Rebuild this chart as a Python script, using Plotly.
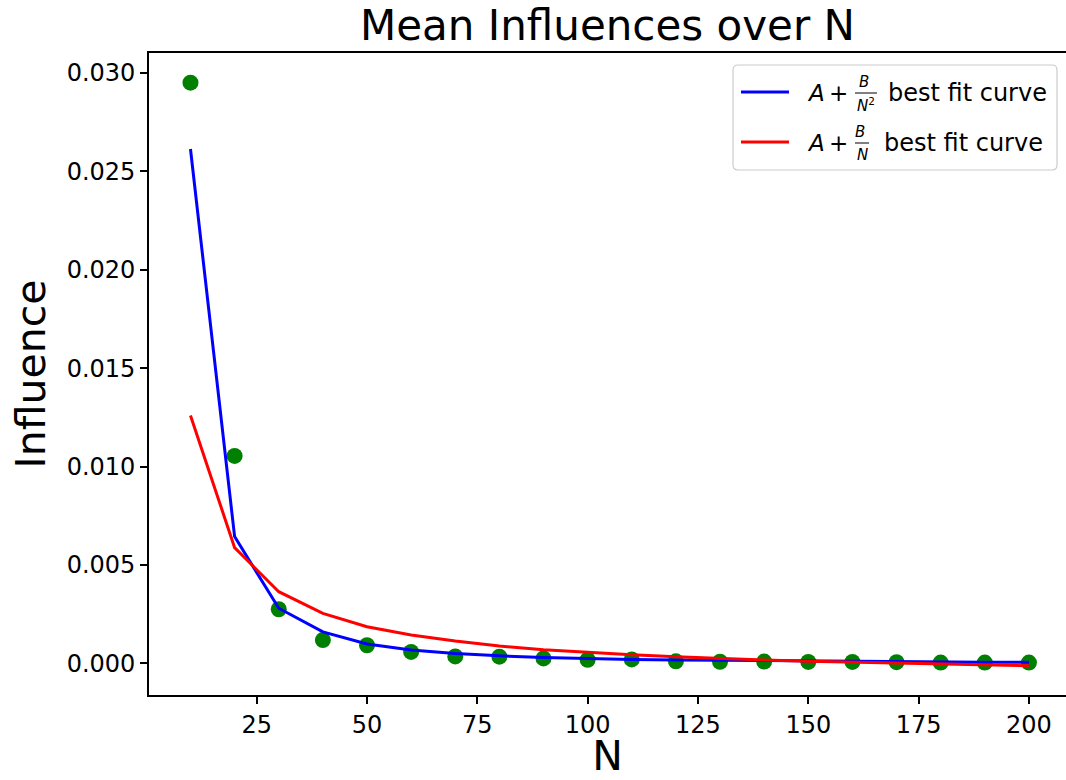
import plotly.graph_objects as go

# ---- data ----
N = [10, 20, 30, 40, 50, 60, 70, 80, 90, 100,
     110, 120, 130, 140, 150, 160, 170, 180, 190, 200]
mean_influence = [0.02951, 0.01054, 0.00275, 0.00118, 0.00092, 0.00058, 0.00035,
                  0.00034, 0.00025, 0.00018, 0.00020, 0.00010, 0.00008, 0.00009,
                  0.00007, 0.00007, 0.00006, 0.00004, 0.00004, 0.00004]
fit_inv_sq = [0.02614, 0.00644, 0.00280, 0.00160, 0.00098, 0.00068, 0.00050,
              0.00038, 0.00030, 0.00024, 0.00020, 0.00017, 0.00015, 0.00013,
              0.00011, 0.00010, 0.00008, 0.00007, 0.00006, 0.00005]
fit_inv = [0.01260, 0.00588, 0.00364, 0.00254, 0.00186, 0.00144, 0.00113,
           0.00088, 0.00069, 0.00055, 0.00043, 0.00033, 0.00024, 0.00017,
           0.00010, 0.00005, 0.00000, -0.00004, -0.00008, -0.00012]
x_ticks = [25, 50, 75, 100, 125, 150, 175, 200]
y_ticks = [0.000, 0.005, 0.010, 0.015, 0.020, 0.025, 0.030]

FONT = "DejaVu Sans"
W, H = 1066, 780
L, R, T, B = 149, 0, 53, 85

fig = go.Figure()
fig.add_trace(go.Scatter(x=N, y=mean_influence, mode="markers",
                         marker=dict(color="#008000", size=16), showlegend=False))
fig.add_trace(go.Scatter(x=N, y=fit_inv_sq, mode="lines",
                         line=dict(color="#0000ff", width=3), showlegend=False))
fig.add_trace(go.Scatter(x=N, y=fit_inv, mode="lines",
                         line=dict(color="#ff0000", width=3), showlegend=False))

# ---- manual legend (to render stacked fractions like mathtext) ----
pw, ph = W - L - R, H - T - B
def px(x):
    return (x - L) / pw
def py(y):
    return (H - B - y) / ph

shapes = []
annots = []
x0, x1, y0, y1, r = px(733), px(1057), py(65), py(170), 5
rx, ry = r / pw, r / ph
path = (f"M {x0+rx},{y0} L {x1-rx},{y0} Q {x1},{y0} {x1},{y0-ry} "
        f"L {x1},{y1+ry} Q {x1},{y1} {x1-rx},{y1} L {x0+rx},{y1} "
        f"Q {x0},{y1} {x0},{y1+ry} L {x0},{y0-ry} Q {x0},{y0} {x0+rx},{y0} Z")
shapes.append(dict(type="path", xref="paper", yref="paper", path=path,
                   line=dict(color="#cccccc", width=1.2), fillcolor="rgba(255,255,255,0.8)"))

entries = [
    dict(color="#0000ff", yc=92, den="<i>N</i><sup>2</sup>", fx=866, tx=887),
    dict(color="#ff0000", yc=142, den="<i>N</i>", fx=862, tx=883),
]
def txt(x, y, s, size, anchor="left"):
    annots.append(dict(xref="paper", yref="paper", x=px(x), y=py(y),
                       xanchor=anchor, yanchor="middle", showarrow=False,
                       borderpad=0, text=s,
                       font=dict(family=FONT, size=size, color="black")))

for e in entries:
    yc = e["yc"]
    shapes.append(dict(type="line", xref="paper", yref="paper",
                       x0=px(741), x1=px(789), y0=py(yc), y1=py(yc),
                       line=dict(color=e["color"], width=3)))
    txt(816, yc + 1, "<i>A</i>", 23, "center")
    txt(838, yc + 1, "+", 23, "center")
    txt(e["fx"] - 2, yc - 10, "<i>B</i>", 15, "center")
    txt(e["fx"], yc + 13, e["den"], 15, "center")
    half = 11 if "sup" in e["den"] else 7
    shapes.append(dict(type="line", xref="paper", yref="paper",
                       x0=px(e["fx"] - half), x1=px(e["fx"] + half),
                       y0=py(yc + 1), y1=py(yc + 1), line=dict(color="black", width=1)))
    txt(e["tx"], yc + 1, "best fit curve", 24)

axis_common = dict(showline=True, linecolor="black", linewidth=1.6,
                   ticks="outside", ticklen=7, tickwidth=1.6, tickcolor="black",
                   showgrid=False, zeroline=False,
                   tickfont=dict(family=FONT, size=24, color="black"))

fig.update_layout(
    width=W, height=H,
    margin=dict(l=L, r=R, t=T, b=B),
    paper_bgcolor="white", plot_bgcolor="white",
    title=dict(text="Mean Influences over N", x=0.5, xref="paper", xanchor="center",
               y=1 - 25 / H, yanchor="middle",
               font=dict(family=FONT, size=42, color="black")),
    xaxis=dict(range=[0.6, 208.4], tickvals=x_ticks, mirror=True,
               title=dict(text="N", standoff=6, font=dict(family=FONT, size=41, color="black")),
               **axis_common),
    yaxis=dict(range=[-0.00161, 0.03102], tickvals=y_ticks, tickformat=".3f",
               title=dict(text="Influence", standoff=8, font=dict(family=FONT, size=41, color="black")),
               **axis_common),
    shapes=shapes, annotations=annots, showlegend=False,
)

fig.write_html("out.html")
